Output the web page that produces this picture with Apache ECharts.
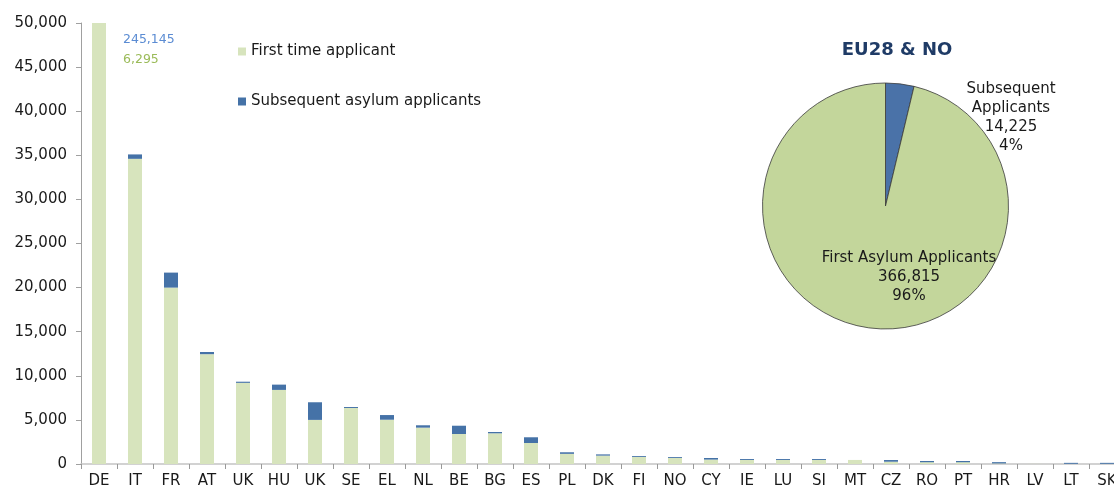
<!DOCTYPE html>
<html>
<head>
<meta charset="utf-8">
<script src="https://cdn.jsdelivr.net/npm/echarts@6/dist/echarts.min.js"></script>
<style>
html,body{margin:0;padding:0;background:#fff;}
#chart{width:1114px;height:491px;}
</style>
</head>
<body>
<div id="chart"></div>
<script>
var categories = ['DE','IT','FR','AT','UK','HU','UK','SE','EL','NL','BE','BG','ES','PL','DK','FI','NO','CY','IE','LU','SI','MT','CZ','RO','PT','HR','LV','LT','SK'];
var firstTime = [245145,34600,20000,12450,9200,8400,5000,6350,5020,4120,3400,3480,2380,1150,950,800,690,500,460,460,460,460,260,200,200,60,10,20,20];
var subsequent = [6295,500,1700,250,130,600,2000,110,530,270,940,150,650,180,140,100,100,180,110,110,110,0,190,140,140,150,0,110,110];
var yTicks = {min: 0, max: 50000, interval: 5000};
var pieNames = ['Subsequent Applicants', 'First Asylum Applicants'];
var pieLabels = ['Subsequent\nApplicants', 'First Asylum Applicants'];
var pieValues = [14225, 366815];
var pieTitle = 'EU28 & NO';
var seriesNames = ['First time applicant', 'Subsequent asylum applicants'];

function fmt(v){ return Number(v).toLocaleString('en-US'); }

var FONT = 'DejaVu Sans';
var chart = echarts.init(document.getElementById('chart'));
var option = {
  animation: false,
  backgroundColor: '#ffffff',
  textStyle: {fontFamily: FONT},
  title: {
    text: pieTitle,
    left: 892, top: 36, textAlign: 'center',
    textStyle: {fontFamily: FONT, fontSize: 18, fontWeight: 'bold', color: '#1f3b66'}
  },
  legend: [
    {data: [seriesNames[0]], left: 233, top: 39, orient: 'vertical', icon: 'rect', itemWidth: 8, itemHeight: 8, itemGap: 4,
     textStyle: {fontFamily: FONT, fontSize: 15, color: '#1a1a1a'}},
    {data: [seriesNames[1]], left: 233, top: 89, orient: 'vertical', icon: 'rect', itemWidth: 8, itemHeight: 8, itemGap: 4,
     textStyle: {fontFamily: FONT, fontSize: 15, color: '#1a1a1a'}}
  ],
  grid: {left: 81, top: 23, right: -11, bottom: 27, containLabel: false, outerBoundsMode: 'none'},
  xAxis: {
    type: 'category',
    data: categories,
    axisLine: {lineStyle: {color: '#c4c4c4', width: 1.5}},
    axisTick: {show: true, length: 5, lineStyle: {color: '#999'}},
    axisLabel: {fontFamily: FONT, fontSize: 15, color: '#1a1a1a', margin: 10, interval: 0}
  },
  yAxis: {
    type: 'value',
    min: yTicks.min, max: yTicks.max, interval: yTicks.interval,
    axisLine: {show: true, lineStyle: {color: '#a0a0a0'}},
    axisTick: {show: true, length: 5, lineStyle: {color: '#a0a0a0'}},
    splitLine: {show: false},
    axisLabel: {fontFamily: FONT, fontSize: 15, color: '#1a1a1a', margin: 14, formatter: function(v){return fmt(v);}}
  },
  series: [
    {
      name: seriesNames[0], type: 'bar', stack: 'total', barWidth: 14, clip: true,
      itemStyle: {color: '#d7e4bd'},
      data: firstTime
    },
    {
      name: seriesNames[1], type: 'bar', stack: 'total', barWidth: 14, clip: true,
      itemStyle: {color: '#4572a7'},
      data: subsequent
    },
    {
      name: pieTitle, type: 'pie',
      center: [885.5, 206], radius: 123,
      startAngle: 90, clockwise: true,
      silent: true,
      itemStyle: {borderColor: '#3a3a3a', borderWidth: 0.8},
      labelLine: {show: false},
      label: {
        show: true, position: 'outside',
        fontFamily: FONT, fontSize: 15, color: '#1a1a1a', lineHeight: 19, align: 'center',
        formatter: function(p){ return pieLabels[p.dataIndex] + '\n' + fmt(p.value) + '\n' + Math.round(p.percent) + '%'; }
      },
      labelLayout: function(p){
        if (p.dataIndex === 0) return {x: 1011, y: 118, align: 'center', verticalAlign: 'middle'};
        return {x: 909, y: 277, align: 'center', verticalAlign: 'middle'};
      },
      data: [
        {name: pieNames[0], value: pieValues[0], itemStyle: {color: '#4a72a8'}},
        {name: pieNames[1], value: pieValues[1], itemStyle: {color: '#c3d69b'}}
      ]
    }
  ],
  graphic: [
    {type: 'text', left: 123, top: 33, style: {text: fmt(firstTime[0]), font: '12.5px "DejaVu Sans"', fill: '#5b8cd3'}},
    {type: 'text', left: 123, top: 53, style: {text: fmt(subsequent[0]), font: '12.5px "DejaVu Sans"', fill: '#9bbb59'}}
  ]
};
chart.setOption(option);
</script>
</body>
</html>
